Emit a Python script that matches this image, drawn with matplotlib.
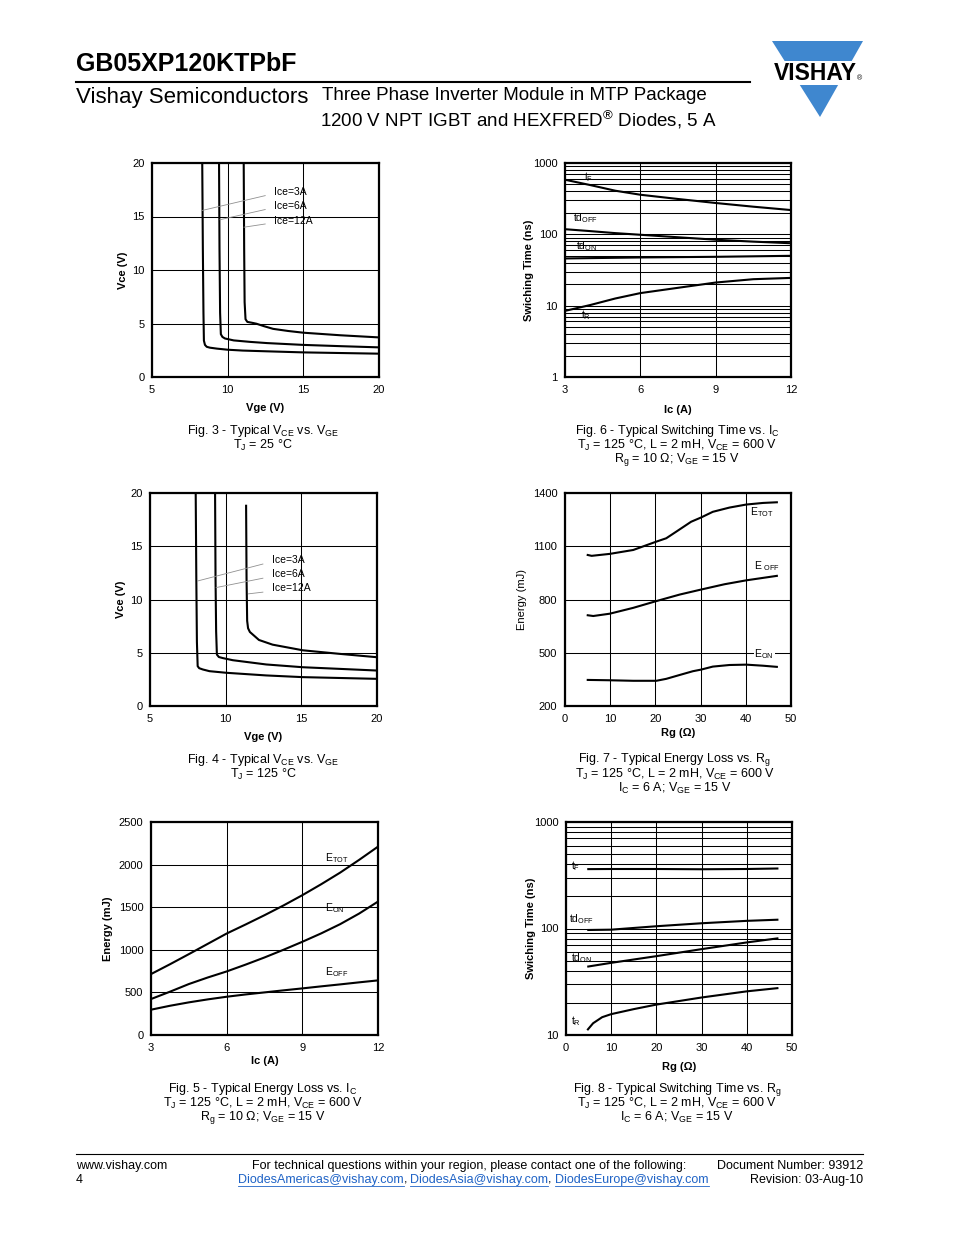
import numpy as np
import matplotlib
matplotlib.use('Agg')
import matplotlib.pyplot as plt
from matplotlib.ticker import FixedLocator, FixedFormatter, LogLocator, NullFormatter
from matplotlib.patches import Polygon, Rectangle

plt.rcParams['font.family'] = ['Liberation Sans', 'DejaVu Sans']
plt.rcParams['mathtext.fontset'] = 'custom'
plt.rcParams['mathtext.rm'] = 'Liberation Sans'
plt.rcParams['mathtext.it'] = 'Liberation Sans:italic'
plt.rcParams['mathtext.bf'] = 'Liberation Sans:bold'
plt.rcParams['mathtext.default'] = 'regular'

# Fig. 3: Vce vs Vge, Tj = 25 C
f3_x_3a = [8.32, 8.36, 8.40, 8.43, 8.50, 8.62, 8.83, 9.3, 10.0, 11.0, 12.6, 15.0, 17.5, 20.0]
f3_y_3a = [20, 12, 6, 3.4, 3.0, 2.82, 2.74, 2.65, 2.55, 2.47, 2.4, 2.3, 2.24, 2.18]
f3_x_6a = [9.43, 9.46, 9.50, 9.55, 9.65, 9.82, 10.4, 11.5, 12.6, 15.0, 17.5, 20.0]
f3_y_6a = [20, 12, 6, 4.0, 3.75, 3.6, 3.42, 3.28, 3.17, 3.0, 2.88, 2.77]
f3_x_12a = [11.06, 11.09, 11.12, 11.18, 11.3, 11.6, 11.9, 12.4, 13.0, 14.0, 15.0, 17.45, 20.0]
f3_y_12a = [20, 12, 7, 5.4, 5.15, 5.07, 4.98, 4.75, 4.5, 4.3, 4.14, 3.9, 3.7]

# Fig. 4: Vce vs Vge, Tj = 125 C
f4_x_3a = [8.02, 8.06, 8.10, 8.15, 8.25, 8.49, 8.93, 10.03, 12.68, 15.1, 20.0]
f4_y_3a = [20, 12, 6, 3.74, 3.55, 3.43, 3.27, 3.12, 2.87, 2.71, 2.55]
f4_x_6a = [9.30, 9.33, 9.37, 9.42, 9.55, 9.81, 10.47, 12.68, 15.1, 20.0]
f4_y_6a = [20, 12, 7, 4.83, 4.6, 4.5, 4.3, 3.9, 3.64, 3.33]
f4_x_12a = [11.35, 11.38, 11.42, 11.48, 11.6, 11.8, 12.2, 13.1, 15.1, 17.5, 20.0]
f4_y_12a = [18.9, 12, 8, 7.3, 6.95, 6.7, 6.2, 5.76, 5.23, 4.9, 4.58]

ice_labels = ['Ice=3A', 'Ice=6A', 'Ice=12A']

# Fig. 5: energy vs Ic
f5_ic = [3, 3.75, 4.5, 5.25, 6, 6.75, 7.5, 8.25, 9, 9.75, 10.5, 11.25, 12]
f5_etot = [715, 830, 949, 1070, 1191, 1297, 1406, 1520, 1641, 1770, 1906, 2055, 2211]
f5_eon = [422, 508, 598, 675, 746, 826, 910, 1000, 1094, 1193, 1301, 1425, 1566]
f5_eoff = [297, 343, 383, 418, 449, 476, 500, 524, 547, 571, 594, 618, 641]

# Fig. 6: switching time vs Ic
f6_ic = [3, 4, 5, 6, 7.5, 9, 10.5, 12]
f6_tf = [583, 491, 409, 359, 313, 275, 244, 219]
f6_tdoff = [118, 111, 104, 98.6, 91, 84, 79, 75]
f6_tdon = [45.9, 46.4, 46.9, 47.4, 47.9, 48.4, 49.2, 50]
f6_tr = [8.45, 10.2, 12.6, 15, 17.8, 21.1, 23.5, 24.5]

# Fig. 7: energy vs Rg
f7_rg_tot = [4.8, 5.9, 9.9, 15.1, 20.2, 22.4, 24.6, 27.9, 30.1, 32.7, 36.4, 40.1, 43.8, 47.1]
f7_etot = [1052, 1046, 1057, 1079, 1126, 1145, 1182, 1238, 1262, 1294, 1318, 1335, 1344, 1348]
f7_rg_off = [4.8, 6.25, 9.9, 15.1, 20.2, 25.4, 30.1, 35.3, 40.1, 47.1]
f7_eoff = [712, 707, 720, 753, 791, 828, 856, 886, 908, 934]
f7_rg_on = [4.8, 9.9, 15.1, 20.2, 22.4, 25.4, 28.3, 30.1, 32.7, 36.4, 40.1, 43.8, 47.1]
f7_eon = [347, 345, 342, 342, 353, 375, 396, 405, 422, 431, 433, 427, 420]

# Fig. 8: switching time vs Rg
f8_rg = [4.7, 10, 20, 30, 40, 47]
f8_tf = [361, 362, 362, 360, 362, 366]
f8_tdoff = [96.8, 97.5, 105, 112, 118, 121]
f8_tdon = [43.8, 47.6, 55, 64, 74, 81]
f8_rg_tr = [4.7, 6, 8, 10, 15, 20, 30, 40, 47]
f8_tr = [11.1, 12.9, 14.7, 15.7, 17.5, 19.3, 22.5, 25.7, 27.6]

W, H = 954, 1235
fig = plt.figure(figsize=(W / 100, H / 100), dpi=100)

# page layer in pixel coordinates
page = fig.add_axes([0, 0, 1, 1])
page.set_xlim(0, W)
page.set_ylim(H, 0)
page.axis('off')


def box(l, t, r, b):
    return [l / W, 1 - b / H, (r - l) / W, (b - t) / H]


def setup(ax, xticks, yticks, ylabels, xlabel, ylabel, ylab_x, xlab_y, l, b, log=False, ybold=True):
    ax.set_xlim(xticks[0], xticks[-1])
    if log:
        ax.set_yscale('log')
        ax.yaxis.set_minor_locator(LogLocator(base=10, subs=np.arange(2, 10)))
        ax.yaxis.set_minor_formatter(NullFormatter())
        ax.grid(True, which='minor', axis='y', color='black', lw=0.75)
    ax.set_ylim(yticks[0], yticks[-1])
    ax.xaxis.set_major_locator(FixedLocator(xticks))
    ax.xaxis.set_major_formatter(FixedFormatter([str(v) for v in xticks]))
    ax.yaxis.set_major_locator(FixedLocator(yticks))
    ax.yaxis.set_major_formatter(FixedFormatter(ylabels))
    ax.grid(True, which='major', color='black', lw=0.75)
    ax.tick_params(which='both', length=0, labelsize=8)
    ax.tick_params(axis='x', pad=6)
    ax.tick_params(axis='y', pad=5.5)
    for s in ax.spines.values():
        s.set_linewidth(1.6)
    ax.set_xlabel(xlabel, fontsize=8, fontweight='bold')
    ax.set_ylabel(ylabel, fontsize=8, fontweight='bold' if ybold else 'normal')
    # label centres given in page pixels
    ax.yaxis.set_label_coords((ylab_x + 6 - l) / ax_w(ax), 0.5)
    ax.xaxis.set_label_coords(0.5, (b - xlab_y + 5) / ax_h(ax))


def ax_w(ax):
    return ax.get_position().width * W


def ax_h(ax):
    return ax.get_position().height * H


def curve(ax, x, y):
    ax.plot(x, y, color='black', lw=1.5, solid_capstyle='butt')


def caption(x, y0, lines):
    for i, s in enumerate(lines):
        page.text(x, y0 + 14 * i, s, fontsize=9, ha='center', va='center')


# ---- Fig. 3 ----
ax3 = fig.add_axes(box(152, 163, 379, 377))
setup(ax3, [5, 10, 15, 20], [0, 5, 10, 15, 20], ['0', '5', '10', '15', '20'],
      'Vge (V)', 'Vce (V)', 122, 408, 152, 377)
curve(ax3, f3_x_3a, f3_y_3a)
curve(ax3, f3_x_6a, f3_y_6a)
curve(ax3, f3_x_12a, f3_y_12a)
f3_lab_y = [17.26, 15.96, 14.6]
f3_lead = [((12.48, 16.95), (8.27, 15.55)), ((12.48, 15.65), (9.49, 14.7)), ((12.48, 14.3), (11.08, 14.0))]
for s, yy, (p, q) in zip(ice_labels, f3_lab_y, f3_lead):
    ax3.text(13.03, yy, s, fontsize=7.5, va='center', ha='left')
    ax3.plot([p[0], q[0]], [p[1], q[1]], color='#909090', lw=0.6)
caption(263, 431, ['Fig. 3 - Typical V$_{CE}$ vs. V$_{GE}$', 'T$_J$ = 25 °C'])

# ---- Fig. 4 ----
ax4 = fig.add_axes(box(150, 493, 377, 706))
setup(ax4, [5, 10, 15, 20], [0, 5, 10, 15, 20], ['0', '5', '10', '15', '20'],
      'Vge (V)', 'Vce (V)', 120, 737, 150, 706)
curve(ax4, f4_x_3a, f4_y_3a)
curve(ax4, f4_x_6a, f4_y_6a)
curve(ax4, f4_x_12a, f4_y_12a)
f4_lab_y = [13.7, 12.37, 11.06]
f4_lead = [((12.46, 13.33), (8.15, 11.74)), ((12.46, 12.0), (9.37, 11.12)), ((12.46, 10.69), (11.5, 10.53))]
for s, yy, (p, q) in zip(ice_labels, f4_lab_y, f4_lead):
    ax4.text(13.05, yy, s, fontsize=7.5, va='center', ha='left')
    ax4.plot([p[0], q[0]], [p[1], q[1]], color='#909090', lw=0.6)
caption(263, 760, ['Fig. 4 - Typical V$_{CE}$ vs. V$_{GE}$', 'T$_J$ = 125 °C'])

# ---- Fig. 5 ----
ax5 = fig.add_axes(box(151, 822, 378, 1035))
setup(ax5, [3, 6, 9, 12], [0, 500, 1000, 1500, 2000, 2500],
      ['0', '500', '1000', '1500', '2000', '2500'],
      'Ic (A)', 'Energy (mJ)', 107, 1061, 151, 1035)
curve(ax5, f5_ic, f5_etot)
curve(ax5, f5_ic, f5_eon)
curve(ax5, f5_ic, f5_eoff)
ax5.text(9.89, 2082, 'E$_{TOT}$', fontsize=7.5, va='center')
ax5.text(9.89, 1484, 'E$_{ON}$', fontsize=7.5, va='center')
ax5.text(9.91, 742, 'E$_{OFF}$', fontsize=7.5, va='center')
caption(263, 1089, ['Fig. 5 - Typical Energy Loss vs. I$_C$',
                    'T$_J$ = 125 °C, L = 2 mH, V$_{CE}$ = 600 V',
                    'R$_g$ = 10 Ω; V$_{GE}$ = 15 V'])

# ---- Fig. 6 ----
ax6 = fig.add_axes(box(565, 163, 791, 377))
setup(ax6, [3, 6, 9, 12], [1, 10, 100, 1000], ['1', '10', '100', '1000'],
      'Ic (A)', 'Swiching Time (ns)', 528, 410, 565, 377, log=True)
curve(ax6, f6_ic, f6_tf)
curve(ax6, f6_ic, f6_tdoff)
curve(ax6, f6_ic, f6_tdon)
curve(ax6, f6_ic, f6_tr)
ax6.text(3.76, 630, 't$_F$', fontsize=7.5, va='center')
ax6.text(3.33, 169, 'td$_{OFF}$', fontsize=7.5, va='center')
ax6.text(3.43, 67.6, 'td$_{ON}$', fontsize=7.5, va='center')
ax6.text(3.63, 7.35, 't$_R$', fontsize=7.5, va='center')
caption(677, 431, ['Fig. 6 - Typical Switching Time vs. I$_C$',
                   'T$_J$ = 125 °C, L = 2 mH, V$_{CE}$ = 600 V',
                   'R$_g$ = 10 Ω; V$_{GE}$ = 15 V'])

# ---- Fig. 7 ----
ax7 = fig.add_axes(box(565, 493, 791, 706))
setup(ax7, [0, 10, 20, 30, 40, 50], [200, 500, 800, 1100, 1400],
      ['200', '500', '800', '1100', '1400'],
      'Rg (Ω)', 'Energy (mJ)', 521, 733, 565, 706, ybold=False)
curve(ax7, f7_rg_tot, f7_etot)
curve(ax7, f7_rg_off, f7_eoff)
curve(ax7, f7_rg_on, f7_eon)
ax7.text(40.96, 1290, 'E$_{TOT}$', fontsize=7.5, va='center')
ax7.text(41.8, 990, 'E $_{OFF}$', fontsize=7.5, va='center')
ax7.text(41.9, 494, 'E$_{ON}$', fontsize=7.5, va='center',
         bbox=dict(facecolor='white', edgecolor='none', pad=0.5))
caption(675, 760, ['Fig. 7 - Typical Energy Loss vs. R$_g$',
                   'T$_J$ = 125 °C, L = 2 mH, V$_{CE}$ = 600 V',
                   'I$_C$ = 6 A; V$_{GE}$ = 15 V'])

# ---- Fig. 8 ----
ax8 = fig.add_axes(box(566, 822, 792, 1035))
setup(ax8, [0, 10, 20, 30, 40, 50], [10, 100, 1000], ['10', '100', '1000'],
      'Rg (Ω)', 'Swiching Time (ns)', 530, 1067, 566, 1035, log=True)
curve(ax8, f8_rg, f8_tf)
curve(ax8, f8_rg, f8_tdoff)
curve(ax8, f8_rg, f8_tdon)
curve(ax8, f8_rg_tr, f8_tr)
ax8.text(1.1, 389, 't$_F$', fontsize=7.5, va='center')
ax8.text(0.74, 123, 'td$_{OFF}$', fontsize=7.5, va='center')
ax8.text(1.1, 52.5, 'td$_{ON}$', fontsize=7.5, va='center')
ax8.text(1.1, 13.4, 't$_R$', fontsize=7.5, va='center')
caption(677, 1089, ['Fig. 8 - Typical Switching Time vs. R$_g$',
                    'T$_J$ = 125 °C, L = 2 mH, V$_{CE}$ = 600 V',
                    'I$_C$ = 6 A; V$_{GE}$ = 15 V'])

# ---- header ----
page.text(76, 64, 'GB05XP120KTPbF', fontsize=18, fontweight='bold', va='center', ha='left')
page.plot([76, 750], [82, 82], color='black', lw=1.5)
page.text(76, 98, 'Vishay Semiconductors', fontsize=16, va='center', ha='left')
page.text(322, 96, 'Three Phase Inverter Module in MTP Package', fontsize=13.5, va='center', ha='left')
page.text(320, 120, '1200 V NPT IGBT and HEXFRED$^{®}$ Diodes, 5 A', fontsize=13.5, va='center', ha='left')

# logo
page.add_patch(Polygon([[772, 41], [863, 41], [820, 117]], closed=True, color='#3f87cf', lw=0))
page.add_patch(Rectangle((765, 60.5), 105, 24, color='white', lw=0))
page.text(815, 74, 'VISHAY', fontsize=16.5, fontweight='bold', ha='center', va='center')
page.text(860, 79, '®', fontsize=5, ha='center', va='center')

# ---- footer ----
page.plot([76, 863], [1154, 1154], color='black', lw=0.8)
page.text(76, 1166, 'www.vishay.com', fontsize=9, va='center')
page.text(76, 1180, '4', fontsize=9, va='center')
page.text(469, 1166, 'For technical questions within your region, please contact one of the following:',
          fontsize=9, va='center', ha='center')
page.text(863, 1166, 'Document Number: 93912', fontsize=9, va='center', ha='right')
page.text(863, 1180, 'Revision: 03-Aug-10', fontsize=9, va='center', ha='right')

renderer = fig.canvas.get_renderer()
inv = page.transData.inverted()
parts = [('DiodesAmericas@vishay.com', True), (', ', False), ('DiodesAsia@vishay.com', True),
         (', ', False), ('DiodesEurope@vishay.com', True)]
xpos = 238
for s, link in parts:
    t = page.text(xpos, 1180, s, fontsize=9, va='center', ha='left',
                  color='#1f63c6' if link else 'black')
    bb = t.get_window_extent(renderer)
    (x0, y0), (x1, y1) = inv.transform([[bb.x0, bb.y0], [bb.x1, bb.y1]])
    if link:
        page.plot([x0, x1], [1186, 1186], color='#1f63c6', lw=0.6)
    xpos = x1

fig.savefig('out.png', dpi=100)
